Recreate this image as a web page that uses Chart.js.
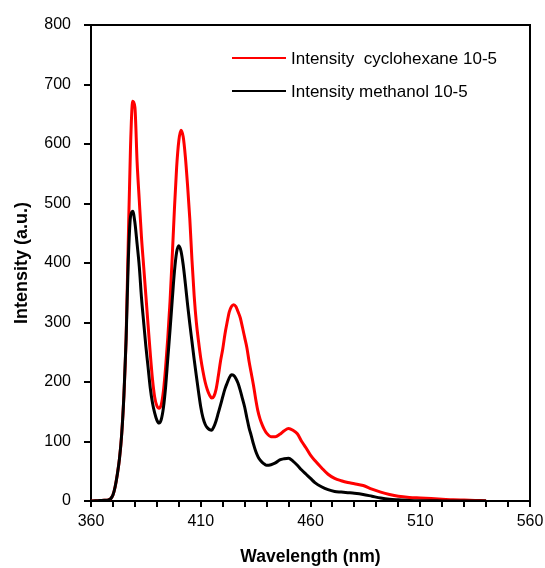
<!DOCTYPE html>
<html><head><meta charset="utf-8">
<script src="https://cdn.jsdelivr.net/npm/chart.js@4"></script>
<style>html,body{margin:0;padding:0;background:#fff;}#wrap{width:545px;height:568px;position:relative;}</style>
</head><body><div id="wrap"><canvas id="c" width="545" height="568"></canvas></div>
<script>
const wavelengths = [360,362,364,366,368,369,370,371,372,373,374,375,376,377,378,379,380,381,382,383,384,385,386,387,388,389,390,391,392,393,394,395,396,397,398,399,400,401,402,403,404,405,406,407,408,409,410,411,412,413,414,415,416,417,418,419,420,421,422,423,424,425,426,427,428,429,430,431,432,433,434,435,436,437,438,439,440,442,444,446,448,450,452,454,456,458,460,462,465,468,471,474,477,480,484,488,492,496,500,505,510,515,520,525,530,535,540];
const cyclohexane = [0,0.3,0.8,1.2,2,4,10,24,45,72,113,178,275,440,595,672,662,570,505,443,394,345,296,248,205,175,160,156,162,185,225,275,335,410,490,560,605,623,612,578,530,475,405,345,300,268,240,218,200,187,178,173,176,188,210,235,255,280,300,318,327,330,327,318,308,292,275,258,235,215,195,172,152,138,128,120,114,108,108,112,118,122,119,113,100,89,77,68,56,45,38,34,31,29,26,20,15,11,8,6,5,4,3,2,1.5,1,0.5];
const methanol = [0,0.3,0.8,1.2,2,4,10,24,45,72,113,178,272,405,478,487,468,432,394,342,300,260,225,190,165,148,136,131,137,157,192,240,287,337,385,418,429,420,397,365,330,298,268,238,210,183,158,140,129,123,120,119,125,135,148,161,175,188,198,207,212,211,206,198,186,172,158,140,123,110,96,84,75,69,65,62,60,61,64,69,71,72,67,60,52,45,38,31,24,19,16,15,14,13,11,8,5,3,2,1,0.5,0.3,0.2,0.1,0,0,0];
const seriesLabels = ['Intensity  cyclohexane 10-5', 'Intensity methanol 10-5'];
const seriesColors = ['#ff0000', '#000000'];
const xLabelValues = [360, 410, 460, 510, 560];
const yTickStep = 100;

const FONT = "'Liberation Sans', Arial, sans-serif";

const framePlugin = {
  id: 'frame',
  afterDatasetsDraw(chart) {
    const {ctx, chartArea: a} = chart;
    ctx.save();
    ctx.strokeStyle = '#000';
    ctx.lineWidth = 2;
    ctx.beginPath();
    ctx.moveTo(a.left - 7, a.top);
    ctx.lineTo(a.right, a.top);
    ctx.lineTo(a.right, a.bottom);
    ctx.stroke();
    ctx.restore();
  }
};

const legendPlugin = {
  id: 'innerLegend',
  afterDatasetsDraw(chart) {
    const {ctx} = chart;
    ctx.save();
    ctx.font = '17px ' + FONT;
    ctx.textBaseline = 'middle';
    chart.data.datasets.forEach((ds, i) => {
      const y = 58 + i * 33;
      ctx.strokeStyle = ds.borderColor;
      ctx.lineWidth = 2;
      ctx.beginPath();
      ctx.moveTo(232, y);
      ctx.lineTo(286, y);
      ctx.stroke();
      ctx.fillStyle = '#000';
      ctx.fillText(ds.label, 291, y + 1);
    });
    ctx.restore();
  }
};

const mk = (vals) => wavelengths.map((x, i) => ({x: x, y: vals[i]}));

new Chart(document.getElementById('c'), {
  type: 'line',
  data: {
    datasets: [
      {label: seriesLabels[0], data: mk(cyclohexane), borderColor: seriesColors[0], backgroundColor: seriesColors[0], borderWidth: 3, pointRadius: 0, cubicInterpolationMode: 'monotone', fill: false, order: 2},
      {label: seriesLabels[1], data: mk(methanol), borderColor: seriesColors[1], backgroundColor: seriesColors[1], borderWidth: 3, pointRadius: 0, cubicInterpolationMode: 'monotone', fill: false, order: 1}
    ]
  },
  options: {
    responsive: false,
    devicePixelRatio: 1,
    animation: false,
    layout: {padding: {top: 25, right: 15, left: 0, bottom: 0}},
    plugins: {legend: {display: false}, tooltip: {enabled: false}},
    scales: {
      x: {
        type: 'linear', min: 360, max: 560,
        afterFit: (s) => { s.height = 67; s.paddingRight = 0; s.paddingLeft = 0; },
        ticks: {stepSize: 10, autoSkip: false, maxRotation: 0, padding: 5, color: '#000', font: {family: FONT, size: 16},
          callback: (v) => xLabelValues.includes(v) ? String(v) : ''},
        grid: {drawOnChartArea: false, drawTicks: true, tickLength: 6, color: '#000', lineWidth: 2},
        border: {display: true, color: '#000', width: 2},
        title: {display: true, text: 'Wavelength (nm)', color: '#000', font: {family: FONT, size: 17.5, weight: 'bold'}, padding: {top: 0, bottom: 0}}
      },
      y: {
        min: 0, max: 800,
        afterFit: (s) => { s.width = 91; },
        ticks: {stepSize: yTickStep, padding: 13, color: '#000', font: {family: FONT, size: 16}},
        grid: {drawOnChartArea: false, drawTicks: true, tickLength: 7, color: '#000', lineWidth: 2},
        border: {display: true, color: '#000', width: 2},
        title: {display: true, text: 'Intensity (a.u.)', color: '#000', font: {family: FONT, size: 18, weight: 'bold'}, padding: {top: 11, bottom: 0}}
      }
    }
  },
  plugins: [framePlugin, legendPlugin]
});
</script></body></html>
